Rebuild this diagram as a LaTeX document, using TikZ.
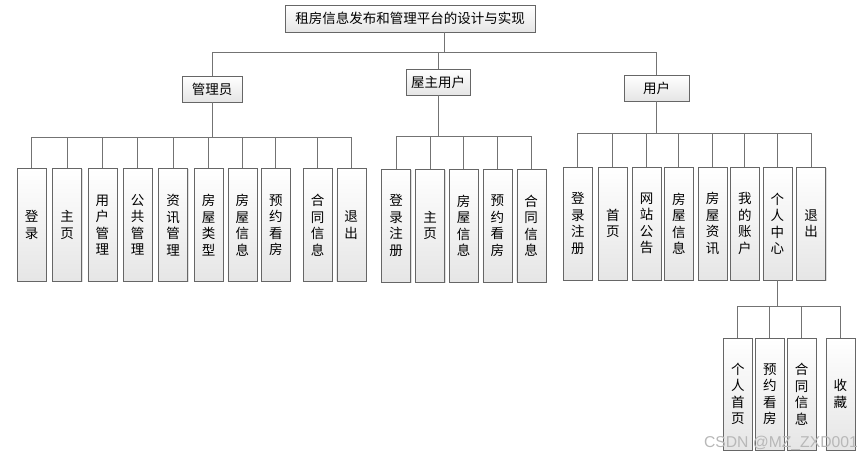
\documentclass[tikz,border=0pt]{standalone}
\usepackage{fontspec}
\setmainfont{Noto Sans CJK SC}
\newfontfamily\wmfont{Liberation Sans}
\usetikzlibrary{shadows}

\begin{document}
\begin{tikzpicture}[x=1pt, y=-1pt,
    box/.style={draw=black!60, top color=white, bottom color=black!10, inner sep=0pt,
      drop shadow={opacity=0.25, shadow xshift=1pt, shadow yshift=-1pt},
      font=\fontsize{13.5}{16.5}\selectfont},
    leaf/.style={box, minimum width=29pt, minimum height=113pt, align=center},
    link/.style={draw=black!55, line width=0.8pt}]

  \useasboundingbox (0,0) rectangle (863,457);

  % top and first level
  \node[box, minimum width=250pt, minimum height=27pt] (title) at (410,18.5) {租房信息发布和管理平台的设计与实现};
  \node[box, minimum width=60pt, minimum height=26pt] (admin) at (212,89) {管理员};
  \node[box, minimum width=64pt, minimum height=26pt] (owner) at (438,82) {屋主用户};
  \node[box, minimum width=65pt, minimum height=26pt] (user) at (656.5,88) {用户};

  % leaves
  \foreach \x/\t [count=\i] in {31.7/{登\\录}, 67/{主\\页}, 102.3/{用\\户\\管\\理}, 137.7/{公\\共\\管\\理},
      173/{资\\讯\\管\\理}, 208.7/{房\\屋\\类\\型}, 242.3/{房\\屋\\信\\息}, 275.8/{预\\约\\看\\房},
      317.5/{合\\同\\信\\息}, 351.2/{退\\出}}{
    \node[leaf] (a\i) at (\x,225) {\t};
  }
  \foreach \x/\t [count=\i] in {396/{登\\录\\注\\册}, 430/{主\\页}, 463.7/{房\\屋\\信\\息},
      497.3/{预\\约\\看\\房}, 531.2/{合\\同\\信\\息}}{
    \node[leaf] (o\i) at (\x,225.5) {\t};
  }
  \foreach \x/\t [count=\i] in {577.8/{登\\录\\注\\册}, 612.8/{首\\页}, 646.7/{网\\站\\公\\告},
      678.8/{房\\屋\\信\\息}, 712.7/{房\\屋\\资\\讯}, 744.8/{我\\的\\账\\户},
      777.3/{个\\人\\中\\心}, 811/{退\\出}}{
    \node[leaf] (u\i) at (\x,223.5) {\t};
  }
  \foreach \x/\t [count=\i] in {737.8/{个\\人\\首\\页}, 769.8/{预\\约\\看\\房},
      801.7/{合\\同\\信\\息}, 840.3/{收\\藏}}{
    \node[leaf, minimum height=112pt] (p\i) at (\x,394) {\t};
  }

  % connectors
  \coordinate (tjoin) at ([xshift=34pt]title.south);
  \foreach \n in {admin,owner,user}
    \draw[link] (tjoin) -- ++(0,20) -| (\n.north);
  \foreach \i in {1,...,10}
    \draw[link] (admin.south) -- ++(0,35) -| (a\i.north);
  \foreach \i in {1,...,5}
    \draw[link] (owner.south) -- ++(0,41) -| (o\i.north);
  \foreach \i in {1,...,8}
    \draw[link] (user.south) -- ++(0,32) -| (u\i.north);
  \foreach \i in {1,...,4}
    \draw[link] (u7.south) -- ++(0,26) -| (p\i.north);

  \node[text=black!28, font=\wmfont\fontsize{15.7}{16}\selectfont, anchor=base east, inner sep=0pt] (mark) at (858,447) {CSDN @MZ\_ZXD001};
\end{tikzpicture}
\end{document}
